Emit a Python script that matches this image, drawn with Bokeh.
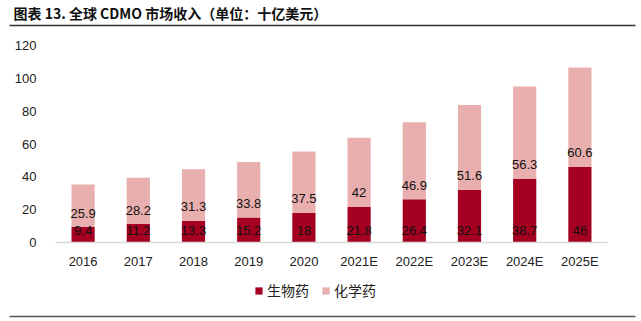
from bokeh.plotting import figure
from bokeh.models import (ColumnDataSource, Range1d, FixedTicker, LinearAxis,
                          Label, PolyAnnotation)
from bokeh.core.properties import value
from bokeh.embed import file_html
from bokeh.resources import INLINE

categories = ["2016", "2017", "2018", "2019", "2020",
              "2021E", "2022E", "2023E", "2024E", "2025E"]
bio = [9.4, 11.2, 13.3, 15.2, 18, 21.8, 26.4, 32.1, 38.7, 46]
chem = [25.9, 28.2, 31.3, 33.8, 37.5, 42, 46.9, 51.6, 56.3, 60.6]
y_ticks = [0, 20, 40, 60, 80, 100, 120]
series_names = ["生物药", "化学药"]
title_text = "图表 13. 全球 CDMO 市场收入（单位：十亿美元）"

BIO_COLOR = "#A50021"
CHEM_COLOR = "#E9AEAE"
CJK = "Noto Sans CJK SC"
LATIN = "Liberation Sans"
W, H = 641, 321

# layout geometry (canvas pixels)
FIRST_CENTER = 82.6   # centre of first category
STEP = 55.2           # category pitch
BASE_Y = 242.0        # pixel of value 0
TOP_Y = 45.0          # pixel of value 120
YMAX = 120.0
ppu = (BASE_Y - TOP_Y) / YMAX

x_idx = list(range(len(categories)))
source = ColumnDataSource(dict(
    x=x_idx,
    bio=bio,
    chem=chem,
    bio_label=[f"{v:g}" for v in bio],
    chem_label=[f"{v:g}" for v in chem],
))

p = figure(width=W, height=H, output_backend="svg", toolbar_location=None,
           x_range=Range1d(-FIRST_CENTER / STEP, (W - FIRST_CENTER) / STEP),
           y_range=Range1d(-(H - BASE_Y) / ppu, BASE_Y / ppu),
           x_axis_type=None, y_axis_type=None, min_border=0)
p.outline_line_color = None
p.grid.visible = False

renderers = p.vbar_stack(["bio", "chem"], x="x", width=0.42,
                         color=[BIO_COLOR, CHEM_COLOR], source=source,
                         line_color=None, legend_label=series_names)

p.text(x="x", y=0, text="bio_label", source=source, y_offset=-12,
       text_align="center", text_baseline="middle", text_font=value(LATIN),
       text_font_size="13px", text_color="#111111")
p.text(x="x", y="bio", text="chem_label", source=source, y_offset=-14,
       text_align="center", text_baseline="middle", text_font=value(LATIN),
       text_font_size="13px", text_color="#111111")

# y axis, fixed at the left edge of the category area
yaxis = LinearAxis(fixed_location=-0.5, ticker=FixedTicker(ticks=y_ticks))
yaxis.axis_line_color = None
yaxis.major_tick_line_color = None
yaxis.minor_tick_line_color = None
yaxis.major_label_standoff = 13
yaxis.major_label_text_font = LATIN
yaxis.major_label_text_font_size = "13px"
yaxis.major_label_text_color = "#222222"
p.add_layout(yaxis, "left")

# x axis, fixed at value 0
xaxis = LinearAxis(fixed_location=0, ticker=FixedTicker(ticks=x_idx),
                   bounds=(-0.5, len(categories) - 0.5))
xaxis.major_label_overrides = {i: c for i, c in zip(x_idx, categories)}
xaxis.axis_line_color = "#D9D9D9"
xaxis.axis_line_width = 1.5
xaxis.major_tick_line_color = None
xaxis.minor_tick_line_color = None
xaxis.major_label_standoff = 5
xaxis.major_label_text_font = LATIN
xaxis.major_label_text_font_size = "13px"
xaxis.major_label_text_color = "#222222"
p.add_layout(xaxis, "below")

# legend
lg = p.legend[0]
lg.orientation = "horizontal"
lg.location = (254, 21)
lg.glyph_width = 9
lg.glyph_height = 9
lg.label_standoff = 4
lg.spacing = 12
lg.padding = 4
lg.margin = 0
lg.label_text_font = CJK
lg.label_text_font_size = "14px"
lg.label_text_color = "#222222"
lg.border_line_color = None
lg.background_fill_alpha = 0

# title and rules (screen units, origin at bottom-left of the canvas)
p.add_layout(Label(x=13, y=H - 12, x_units="screen", y_units="screen",
                   text=title_text, text_font=CJK, text_font_size="14px",
                   text_font_style="bold", text_baseline="middle",
                   text_color="#111111"))
p.add_layout(PolyAnnotation(xs=[9, 635, 635, 9], ys=[H - 24.3, H - 24.3, H - 25.7, H - 25.7],
                            xs_units="screen", ys_units="screen",
                            fill_color="#333333", fill_alpha=1, line_color=None))
p.add_layout(PolyAnnotation(xs=[9, 635, 635, 9], ys=[H - 315.2, H - 315.2, H - 316.8, H - 316.8],
                            xs_units="screen", ys_units="screen",
                            fill_color="#555555", fill_alpha=1, line_color=None))

open("out.html", "w").write(file_html(p, INLINE))
